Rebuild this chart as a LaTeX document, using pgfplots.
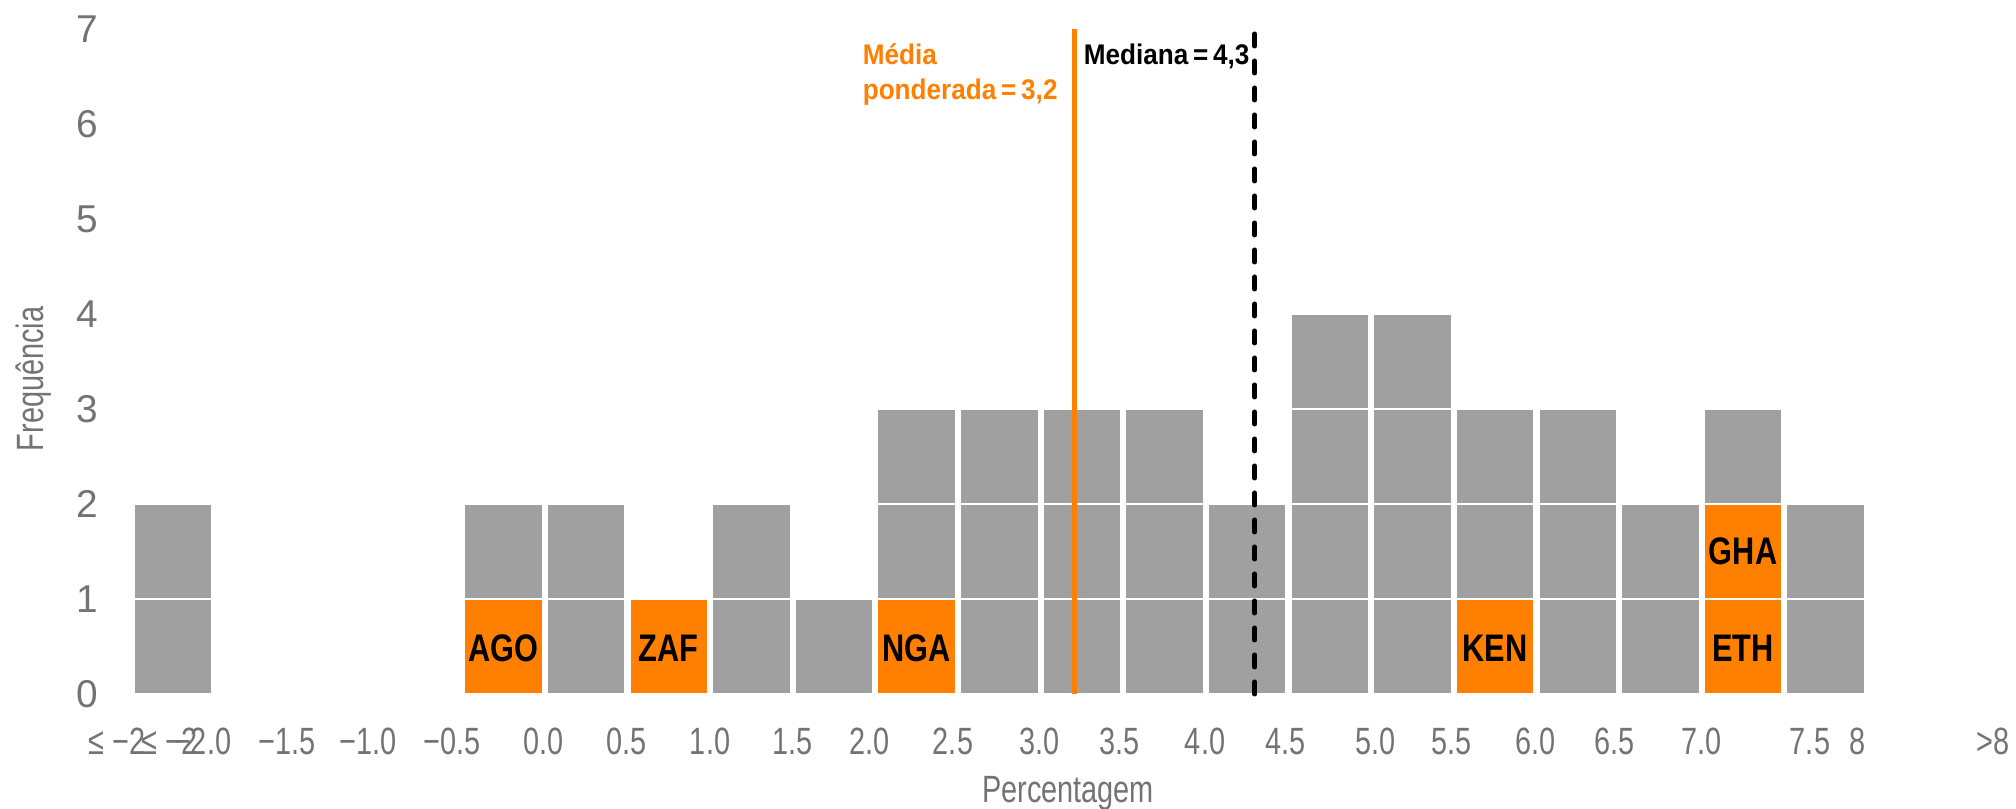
\documentclass[border=0pt]{standalone}
\usepackage{fontspec}
\setmainfont{Liberation Sans}
\newfontfamily\narrowfont[FakeStretch=0.76]{Liberation Sans}
\newfontfamily\boxfont[FakeStretch=0.80]{Liberation Sans}
\newfontfamily\annfont[FakeStretch=0.92]{Liberation Sans}
\usepackage{pgfplots}
\pgfplotsset{compat=1.18}
\definecolor{barGray}{RGB}{160,160,160}
\definecolor{orng}{RGB}{255,128,0}
\definecolor{txtGray}{RGB}{115,115,115}
\begin{document}
\begin{tikzpicture}
\begin{axis}[
  at={(0,0)}, anchor=south west,
  scale only axis,
  width=476.5pt, height=166.25pt,
  xmin=-0.761, xmax=22.303,
  ymin=0, ymax=7,
  clip=false,
  axis line style={draw=none},
  major tick length=0pt,
  ytick={0,1,2,3,4,5,6,7},
  yticklabel style={font=\fontsize{9.7}{11}\selectfont, text=txtGray, anchor=east, inner sep=0pt, xshift=-2.75pt},
  /pgf/number format/assume math mode=true,
  xtick={-0.68,-0.04,0.36,1.38,2.36,3.38,4.49,5.49,6.50,7.50,8.43,9.44,10.49,11.45,12.49,13.46,14.55,15.47,16.49,17.44,18.50,19.81,20.39,22.02},
  xticklabels={{≤ −2},{≤ −2},{−2.0},{−1.5},{−1.0},{−0.5},{0.0},{0.5},{1.0},{1.5},{2.0},{2.5},{3.0},{3.5},{4.0},{4.5},{5.0},{5.5},{6.0},{6.5},{7.0},{7.5},{8},{>8}},
  xticklabel style={font=\narrowfont\fontsize{9.5}{11}\selectfont, text=txtGray, anchor=base, inner sep=0pt, yshift=-15.25pt},
  barstyle/.style={ybar, bar shift=0pt, bar width=0.955, draw=white, line width=0.625pt},
]
% level 4 (gray)
\addplot[barstyle, fill=barGray] coordinates {(14,4) (15,4)};
% level 3 (gray)
\addplot[barstyle, fill=barGray] coordinates {(9,3) (10,3) (11,3) (12,3) (14,3) (15,3) (16,3) (17,3) (19,3)};
% level 2 (gray)
\addplot[barstyle, fill=barGray] coordinates {(0,2) (4,2) (5,2) (7,2) (9,2) (10,2) (11,2) (12,2) (13,2) (14,2) (15,2) (16,2) (17,2) (18,2) (20,2)};
% level 2 (orange)
\addplot[barstyle, fill=orng] coordinates {(19,2)};
% level 1 (gray)
\addplot[barstyle, fill=barGray] coordinates {(0,1) (5,1) (7,1) (8,1) (10,1) (11,1) (12,1) (13,1) (14,1) (15,1) (17,1) (18,1) (20,1)};
% level 1 (orange)
\addplot[barstyle, fill=orng] coordinates {(4,1) (6,1) (9,1) (16,1) (19,1)};
% weighted mean and median
\addplot[orng, line width=1.4pt, mark=none] coordinates {(10.91,0) (10.91,7)};
\addplot[black, line width=1.25pt, mark=none, line cap=round, dash pattern=on 3pt off 3.75pt] coordinates {(13.09,0) (13.09,7)};
% country labels
\begin{scope}[every node/.style={font=\boxfont\bfseries\fontsize{9.6}{11}\selectfont, text=black}]
\node at (axis cs:4,0.48) {AGO};
\node at (axis cs:6,0.48) {ZAF};
\node at (axis cs:9,0.48) {NGA};
\node at (axis cs:16,0.48) {KEN};
\node at (axis cs:19,0.48) {ETH};
\node at (axis cs:19,1.5) {GHA};
\end{scope}
\end{axis}
% annotations
\node[anchor=base west, inner sep=0pt, font=\annfont\bfseries\fontsize{7.1}{8}\selectfont, text=orng] at (188pt,157.25pt) {Média};
\node[anchor=base west, inner sep=0pt, font=\annfont\bfseries\fontsize{7.1}{8}\selectfont, text=orng] at (188pt,148.5pt) {ponderada\hspace{1.2pt}=\hspace{1.2pt}3,2};
\node[anchor=base west, inner sep=0pt, font=\annfont\bfseries\fontsize{7.1}{8}\selectfont, text=black] at (243.25pt,157.25pt) {Mediana\hspace{1.2pt}=\hspace{1.2pt}4,3};
% axis titles
\node[anchor=base, inner sep=0pt, font=\narrowfont\fontsize{9.5}{11}\selectfont, text=txtGray] at (239.5pt,-27.25pt) {Percentagem};
\node[anchor=base, rotate=90, inner sep=0pt, font=\narrowfont\fontsize{9.5}{11}\selectfont, text=txtGray] at (-16.75pt,78.75pt) {Frequência};
\pgfresetboundingbox
\useasboundingbox (-27.5pt,-28.75pt) rectangle (476.5pt,173.5pt);
\end{tikzpicture}
\end{document}
